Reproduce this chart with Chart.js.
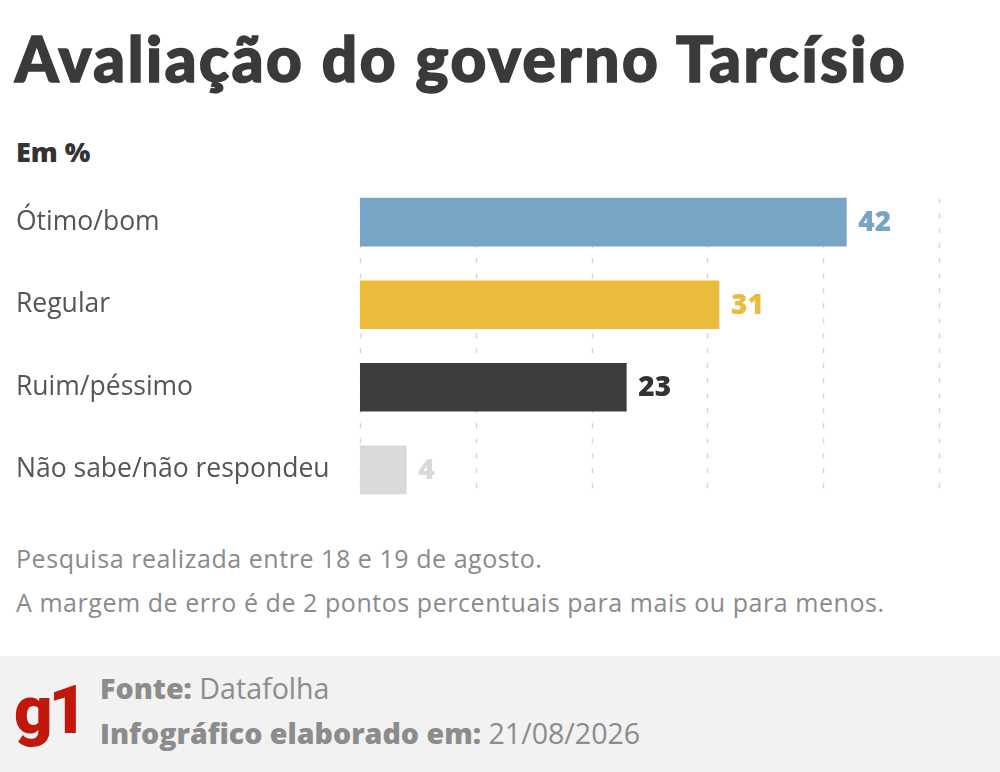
<!DOCTYPE html>
<html lang="pt-BR">
<head>
<meta charset="utf-8">
<script src="https://cdn.jsdelivr.net/npm/chart.js@4.4.0/dist/chart.umd.js"></script>
<style>
    html, body {
        margin: 0;
        padding: 0;
        width: 1000px;
        height: 772px;
        background: #fff;
        overflow: hidden;
        font-family: "Open Sans", "Noto Sans", sans-serif;
    }
    .title {
        position: absolute;
        left: 15px;
        top: 21px;
        margin: 0;
        font-family: Lato, "Open Sans", sans-serif;
        font-size: 62px;
        font-weight: 900;
        color: #3a3a3a;
        -webkit-text-stroke: 1.6px #3a3a3a;
        letter-spacing: 2.6px;
        white-space: nowrap;
        line-height: 1.2;
    }
    .unit {
        position: absolute;
        left: 16px;
        top: 136px;
        font-size: 27px;
        font-weight: 800;
        color: #333;
        line-height: 1.2;
    }
    .chart-box {
        position: absolute;
        left: 0;
        top: 162px;
        width: 1000px;
        height: 368px;
    }
    .note {
        position: absolute;
        left: 16px;
        font-size: 25px;
        letter-spacing: 0.55px;
        color: #8a8a8a;
        white-space: nowrap;
        line-height: 1.2;
    }
    .footer {
        position: absolute;
        left: 0;
        top: 656px;
        width: 1000px;
        height: 116px;
        background: #f2f2f2;
    }
    .logo {
        position: absolute;
        left: 14px;
        top: 14px;
        font-family: Roboto, Lato, sans-serif;
        font-size: 67px;
        font-weight: 900;
        color: #c4170c;
        letter-spacing: -4px;
        line-height: 1.2;
    }
    .src {
        position: absolute;
        left: 100px;
        font-size: 28.6px;
        color: #8c8c8c;
        white-space: nowrap;
        line-height: 1.2;
    }
    .src b { font-weight: 800; }
</style>
</head>
<body>
<h1 class="title">Avaliação do governo Tarcísio</h1>
<div class="unit">Em %</div>
<div class="chart-box"><canvas id="bars"></canvas></div>
<div class="note" style="top:543px">Pesquisa realizada entre 18 e 19 de agosto.</div>
<div class="note" style="top:587px">A margem de erro é de 2 pontos percentuais para mais ou para menos.</div>
<div class="footer">
    <div class="logo">g1</div>
    <div class="src" style="top:15px"><b>Fonte:</b> Datafolha</div>
    <div class="src" style="top:60px"><b>Infográfico elaborado em:</b> 21/08/2026</div>
</div>
<script>
const categories = ['Ótimo/bom', 'Regular', 'Ruim/péssimo', 'Não sabe/não respondeu'];
const values = [42, 31, 23, 4];
const barColors = ['#78a4c5', '#ebbb3c', '#3d3d3d', '#d9d9d9'];
const gridTicks = [0, 10, 20, 30, 40, 50];

const BAR = 48;

// dashed vertical guides, only across the span of the bars
const dashedGrid = {
    id: 'dashedGrid',
    beforeDatasetsDraw(chart) {
        const { ctx, scales: { x, y } } = chart;
        const top = y.getPixelForValue(0) - BAR / 2;
        const bottom = y.getPixelForValue(categories.length - 1) + BAR / 2;
        ctx.save();
        ctx.strokeStyle = '#d6d6d6';
        ctx.lineWidth = 1.5;
        ctx.setLineDash([5, 10]);
        gridTicks.forEach(t => {
            const px = Math.round(x.getPixelForValue(t)) + 0.5;
            ctx.beginPath();
            ctx.moveTo(px, top);
            ctx.lineTo(px, bottom);
            ctx.stroke();
        });
        ctx.restore();
    }
};

// numbers at the end of each bar, same colour as the bar
const valueLabels = {
    id: 'valueLabels',
    afterDatasetsDraw(chart) {
        const { ctx } = chart;
        const meta = chart.getDatasetMeta(0);
        ctx.save();
        ctx.font = '800 28px "Open Sans", "Noto Sans", sans-serif';
        ctx.textBaseline = 'middle';
        ctx.textAlign = 'left';
        meta.data.forEach((bar, i) => {
            ctx.fillStyle = i === 2 ? '#333333' : barColors[i];
            ctx.fillText(String(values[i]), bar.x + 12, bar.y + 1);
        });
        ctx.restore();
    }
};

new Chart(document.getElementById('bars'), {
    type: 'bar',
    data: {
        labels: categories,
        datasets: [{
            data: values,
            backgroundColor: barColors,
            borderWidth: 0,
            barThickness: BAR
        }]
    },
    options: {
        indexAxis: 'y',
        responsive: true,
        maintainAspectRatio: false,
        animation: false,
        events: [],
        layout: {
            padding: { left: 16, right: 61, top: 0, bottom: 0 }
        },
        plugins: {
            legend: { display: false },
            tooltip: { enabled: false }
        },
        scales: {
            x: {
                display: false,
                min: 0,
                max: 50
            },
            y: {
                grid: { display: false },
                border: { display: false },
                afterFit(scale) { scale.width = 344; },
                ticks: {
                    crossAlign: 'far',
                    color: '#555555',
                    font: { family: '"Open Sans", "Noto Sans", sans-serif', size: 26.5 }
                }
            }
        }
    },
    plugins: [dashedGrid, valueLabels]
});
</script>
</body>
</html>
